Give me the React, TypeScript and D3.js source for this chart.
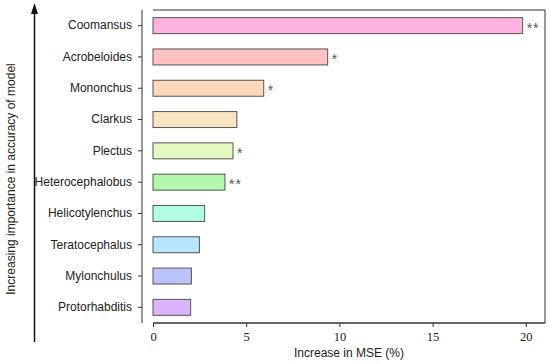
import React, { useEffect, useRef } from "react";
import * as d3 from "d3";

// genera, top to bottom
const genera = [
  "Coomansus",
  "Acrobeloides",
  "Mononchus",
  "Clarkus",
  "Plectus",
  "Heterocephalobus",
  "Helicotylenchus",
  "Teratocephalus",
  "Mylonchulus",
  "Protorhabditis",
];
const mseIncrease = [19.83, 9.37, 5.94, 4.5, 4.29, 3.86, 2.77, 2.49, 2.06, 2.02];
const significance = ["**", "*", "*", "", "*", "**", "", "", "", ""];
const barColors = [
  "#ffb3df",
  "#ffc2c2",
  "#fcd9bb",
  "#f7e4c0",
  "#e4f8c2",
  "#b3f8aa",
  "#b0fde3",
  "#b8e7fd",
  "#bcc3fb",
  "#dab5fb",
];
const xTicks = [0, 5, 10, 15, 20];

const App = () => {
  const ref = useRef<SVGSVGElement>(null);

  useEffect(() => {
    const width = 550,
      height = 364;
    const plot = { left: 153, right: 545, top: 10, bottom: 323 };

    const svg = d3.select(ref.current);
    svg.selectAll("*").remove();

    const x = d3.scaleLinear().domain([0, 21]).range([plot.left, plot.left + 21 * 18.64]);
    const y = d3
      .scaleBand()
      .domain(genera)
      .range([plot.top, plot.bottom])
      .paddingInner(0.49)
      .paddingOuter(0.245);

    // plot box (top, right, bottom)
    svg
      .append("path")
      .attr("d", `M${plot.left},${plot.top}H${plot.right}V${plot.bottom}H${plot.left}`)
      .attr("fill", "none")
      .attr("stroke", "#333")
      .attr("stroke-width", 1);

    // bars
    svg
      .selectAll(".bar")
      .data(genera)
      .enter()
      .append("rect")
      .attr("x", x(0))
      .attr("y", (d) => y(d)!)
      .attr("width", (d, i) => x(mseIncrease[i]) - x(0))
      .attr("height", y.bandwidth())
      .attr("fill", (d, i) => barColors[i])
      .attr("stroke", "#555")
      .attr("stroke-width", 1);

    // significance stars
    svg
      .selectAll(".star")
      .data(genera)
      .enter()
      .append("text")
      .attr("x", (d, i) => x(mseIncrease[i]) + 4)
      .attr("y", (d) => y(d)! + y.bandwidth() / 2 + 7)
      .attr("font-family", "Liberation Sans, sans-serif")
      .attr("font-size", 14)
      .attr("letter-spacing", 1)
      .attr("fill", "#555")
      .text((d, i) => significance[i]);

    // left axis (separate from box)
    const yAxis = svg
      .append("g")
      .attr("transform", `translate(142,0)`)
      .call(d3.axisLeft(y).tickSize(4).tickPadding(6));
    yAxis.select(".domain").attr("d", `M0,${plot.top}V${plot.bottom}`).attr("stroke", "#333");
    yAxis.selectAll("line").attr("stroke", "#333");
    yAxis
      .selectAll("text")
      .attr("font-family", "Liberation Sans, Arial, sans-serif")
      .attr("font-size", 12)
      .attr("fill", "#222");

    // bottom axis
    const xAxis = svg
      .append("g")
      .attr("transform", `translate(0,${plot.bottom})`)
      .call(d3.axisBottom(x).tickValues(xTicks).tickSize(4).tickPadding(5));
    xAxis.select(".domain").attr("d", `M${plot.left},0H${plot.right}`).attr("stroke", "#333");
    xAxis.selectAll("line").attr("stroke", "#333");
    xAxis
      .selectAll("text")
      .attr("font-family", "Liberation Serif, DejaVu Serif, serif")
      .attr("font-size", 12.5)
      .attr("fill", "#222");

    // x axis title
    svg
      .append("text")
      .attr("x", 349)
      .attr("y", 357)
      .attr("text-anchor", "middle")
      .attr("font-family", "Liberation Sans, Arial, sans-serif")
      .attr("font-size", 12)
      .attr("fill", "#222")
      .text("Increase in MSE (%)");

    // importance arrow
    svg
      .append("line")
      .attr("x1", 34.5)
      .attr("x2", 34.5)
      .attr("y1", 12)
      .attr("y2", 342)
      .attr("stroke", "#111")
      .attr("stroke-width", 1.5);
    svg
      .append("path")
      .attr("d", "M34.5,3L31,14L38,14Z")
      .attr("fill", "#111");

    // y axis title
    svg
      .append("text")
      .attr("transform", `translate(15,179) rotate(-90)`)
      .attr("text-anchor", "middle")
      .attr("font-family", "Liberation Sans, Arial, sans-serif")
      .attr("font-size", 12)
      .attr("fill", "#222")
      .text("Increasing importance in accuracy of model");

    svg.attr("width", width).attr("height", height);
  }, []);

  return (
    <svg
      ref={ref}
      width={550}
      height={364}
      style={{ position: "absolute", left: 0, top: 0, background: "#fff" }}
    />
  );
};

export default App;
